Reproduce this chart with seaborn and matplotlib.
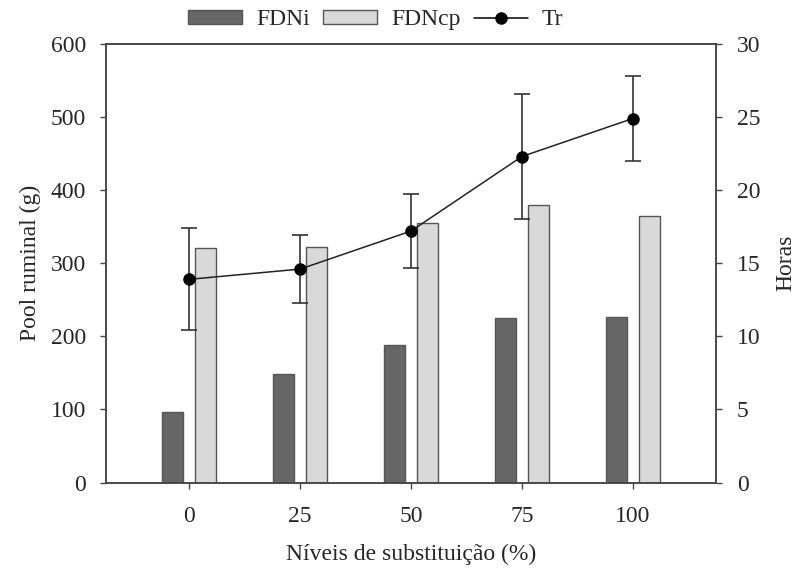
import numpy as np
import pandas as pd
import matplotlib
matplotlib.use('Agg')
import matplotlib.pyplot as plt
import seaborn as sns
from matplotlib.lines import Line2D

# dados
niveis = ['0', '25', '50', '75', '100']
fdni = [96, 149, 188, 225, 227]
fdncp = [321, 322, 355, 380, 365]
tr = [13.9, 14.6, 17.2, 22.3, 24.9]
tr_sd = [3.5, 2.3, 2.55, 4.25, 2.9]

sns.set_style('ticks')
plt.rcParams['font.family'] = ['Liberation Serif', 'DejaVu Serif']
plt.rcParams['font.size'] = 17

df = pd.DataFrame({
    'nivel': niveis * 2,
    'pool': fdni + fdncp,
    'fracao': ['FDNi'] * 5 + ['FDNcp'] * 5,
})

fig, ax = plt.subplots(figsize=(7.99, 5.69), dpi=100)
fig.subplots_adjust(left=0.1327, right=0.896, top=0.9227, bottom=0.152)

sns.barplot(data=df, x='nivel', y='pool', hue='fracao', order=niveis,
            hue_order=['FDNi', 'FDNcp'], palette=['#666666', '#d9d9d9'],
            width=0.6, gap=0.37, edgecolor='#555555', linewidth=1,
            legend=False, ax=ax)
ax.set_xlim(-0.75, 4.75)
ax.set_ylim(0, 600)
ax.set_yticks(range(0, 601, 100))
ax.set_xlabel('Níveis de substituição (%)', labelpad=12)
ax.set_ylabel('Pool ruminal (g)', labelpad=7)

ax2 = ax.twinx()
xpos = np.arange(len(niveis))
ax2.errorbar(xpos, tr, yerr=tr_sd, fmt='none', ecolor='#333333',
             elinewidth=1.2, capsize=6, capthick=1.2)
ax2.plot(xpos, tr, color='#222222', lw=1.1, marker='o', ms=8,
         mfc='black', mec='black')
ax2.set_ylim(0, 30)
ax2.set_yticks(range(0, 31, 5))
ax2.set_ylabel('Horas', labelpad=11)

for a in (ax, ax2):
    for s in a.spines.values():
        s.set_visible(True)
        s.set_color('#444444')
        s.set_linewidth(1.1)
    a.tick_params(direction='out', length=4.5, width=1, color='#444444',
                  labelsize=17)
ax.tick_params(axis='y', pad=10)
ax.tick_params(axis='x', pad=12.5)
ax2.tick_params(axis='y', pad=10.5)

handles = [
    plt.Rectangle((0, 0), 1, 1, fc='#666666', ec='#555555', lw=1),
    plt.Rectangle((0, 0), 1, 1, fc='#d9d9d9', ec='#555555', lw=1),
    Line2D([0], [0], color='black', lw=1.1, marker='o', ms=8),
]
fig.legend(handles, ['FDNi', 'FDNcp', 'Tr'], loc='center',
           bbox_to_anchor=(0.47, 0.965), ncol=3, frameon=False,
           handlelength=2.3, handleheight=0.5, handletextpad=0.6,
           columnspacing=0.55, fontsize=17)

fig.savefig('out.png', dpi=100, facecolor='white')
